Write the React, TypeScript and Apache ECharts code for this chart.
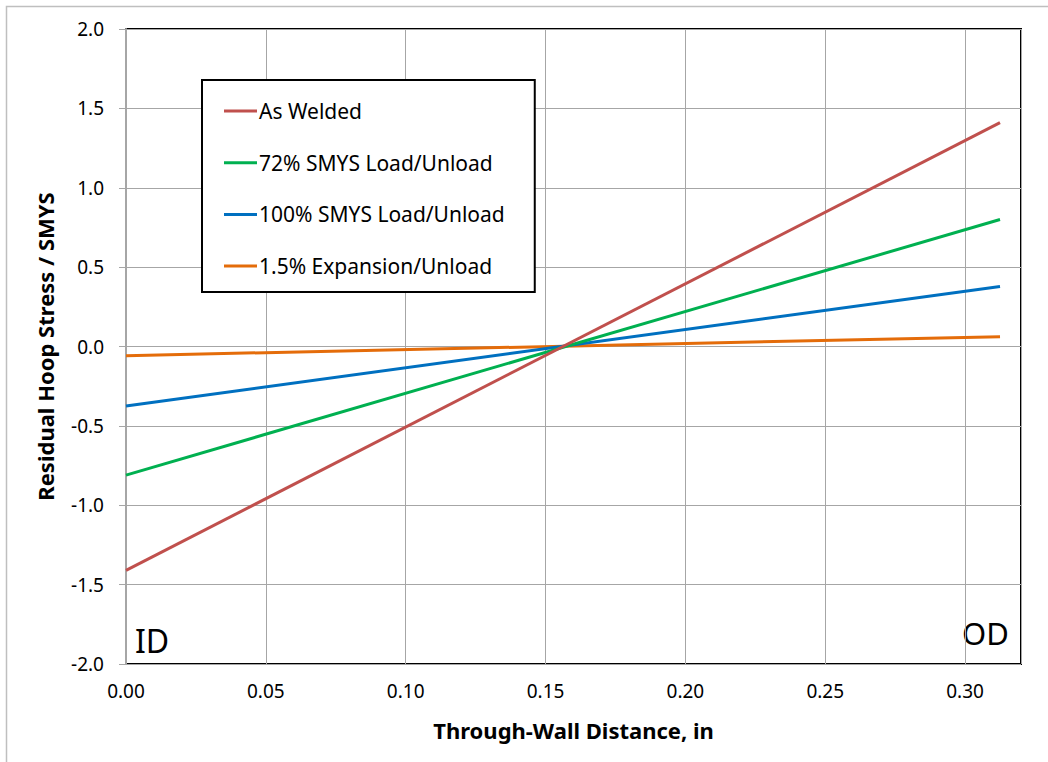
import React, { useEffect, useRef } from "react";
import * as echarts from "echarts";

const xValues = [0, 0.3125];
const seriesNames = ["As Welded", "72% SMYS Load/Unload", "100% SMYS Load/Unload", "1.5% Expansion/Unload"];
const asWelded = [-1.41, 1.41];
const smys72 = [-0.81, 0.8];
const smys100 = [-0.375, 0.378];
const expansion = [-0.058, 0.062];
const colors = ["#C0504D", "#00B050", "#0070C0", "#E46C0A"];

const FONT = "'Noto Sans', 'Open Sans', sans-serif";

export default function App() {
  const ref = useRef<HTMLDivElement>(null);
  useEffect(() => {
    if (!ref.current) return;
    const chart = echarts.init(ref.current, undefined, { renderer: "svg" });
    const all = [asWelded, smys72, smys100, expansion];
    chart.setOption({
      animation: false,
      backgroundColor: "#ffffff",
      textStyle: { fontFamily: FONT },
      grid: {
        left: 126,
        right: 27,
        top: 29,
        bottom: 98,
        show: true,
        borderColor: "#000000",
        borderWidth: 2,
        backgroundColor: "transparent",
      },
      xAxis: {
        type: "value",
        min: 0,
        max: 0.32,
        interval: 0.05,
        name: "Through-Wall Distance, in",
        nameLocation: "middle",
        nameGap: 55,
        nameTextStyle: { fontFamily: FONT, fontSize: 22, fontWeight: "bold", color: "#000" },
        axisLine: { show: false },
        axisTick: { show: false },
        axisLabel: {
          showMaxLabel: false,
          fontFamily: FONT,
          fontSize: 19,
          color: "#000",
          margin: 17,
          formatter: (v: number) => v.toFixed(2),
        },
        splitLine: { show: true, lineStyle: { color: "#A6A6A6", width: 1 } },
      },
      yAxis: {
        type: "value",
        min: -2,
        max: 2,
        interval: 0.5,
        name: "Residual Hoop Stress / SMYS",
        nameLocation: "middle",
        nameGap: 70,
        nameTextStyle: { fontFamily: FONT, fontSize: 22, fontWeight: "bold", color: "#000" },
        axisLine: { show: true, onZero: false, lineStyle: { color: "#A6A6A6", width: 2 } },
        axisTick: { show: true, length: 7, lineStyle: { color: "#A6A6A6" } },
        axisLabel: {
          fontFamily: FONT,
          fontSize: 19,
          color: "#000",
          margin: 22,
          formatter: (v: number) => v.toFixed(1),
        },
        splitLine: { show: true, lineStyle: { color: "#A6A6A6", width: 1 } },
      },
      legend: {
        show: true,
        orient: "vertical",
        left: 202,
        top: 80,
        padding: [20, 30, 15, 22],
        itemGap: 29.7,
        itemWidth: 33,
        itemHeight: 3,
        icon: "rect",
        borderColor: "#000",
        borderWidth: 2,
        borderRadius: 0,
        backgroundColor: "#fff",
        textStyle: { fontFamily: FONT, fontSize: 21, color: "#000", lineHeight: 22, padding: [0, 0, 0, -3] },
        data: seriesNames,
      },
      series: all.map((vals, i) => ({
        type: "line",
        name: seriesNames[i],
        data: xValues.map((x, j) => [x, vals[j]]),
        symbol: "none",
        lineStyle: { color: colors[i], width: 3 },
        itemStyle: { color: colors[i] },
        z: 2 + (3 - i),
      })),
      graphic: [
        {
          type: "rect",
          shape: { x: 6.5, y: 6.5, width: 1100, height: 800 },
          style: { fill: "none", stroke: "#BFBFBF", lineWidth: 1.5 },
          silent: true,
        },
        {
          type: "text",
          x: 135,
          y: 624,
          style: { text: "ID", fontFamily: FONT, fontSize: 32, fill: "#000" },
        },
        {
          type: "text",
          x: 962,
          y: 617,
          style: { text: "OD", fontFamily: FONT, fontSize: 31, fill: "#000" },
        },
      ],
    });
    return () => chart.dispose();
  }, []);
  return <div ref={ref} style={{ position: "fixed", left: 0, top: 0, width: 1048, height: 762 }} />;
}
